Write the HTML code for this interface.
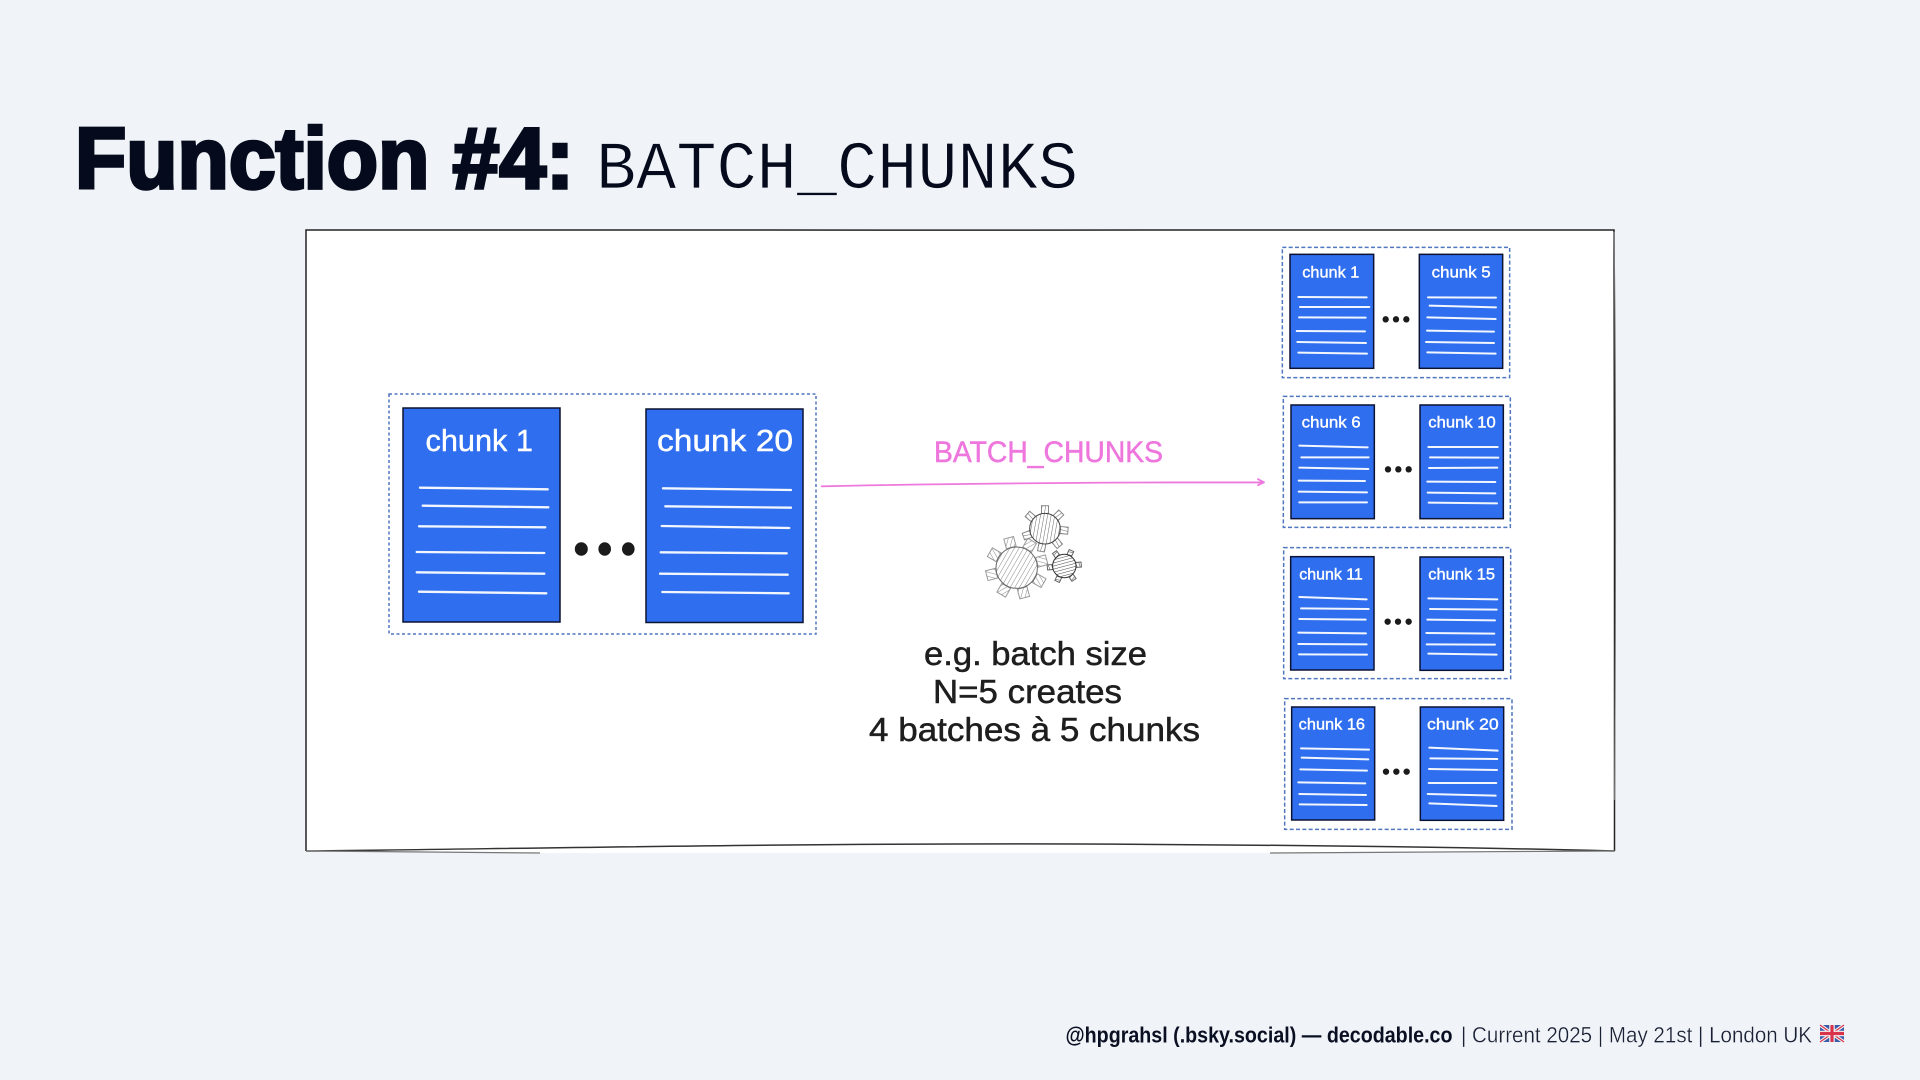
<!DOCTYPE html>
<html><head><meta charset="utf-8"><style>
html,body{margin:0;padding:0;background:#f0f4f9;width:1920px;height:1080px;overflow:hidden}
svg{display:block}
.h{font-family:"Liberation Sans",sans-serif}
.c{fill:#fff;stroke:#fff;stroke-width:.4;font-family:"Liberation Sans",sans-serif}
.n{fill:#1e1e1e;stroke:#1e1e1e;stroke-width:.5;font-family:"Liberation Sans",sans-serif;font-size:33px}
</style></head><body>
<svg width="1920" height="1080" viewBox="0 0 1920 1080" xmlns="http://www.w3.org/2000/svg">
<defs>
<pattern id="h1" width="4" height="4" patternUnits="userSpaceOnUse" patternTransform="rotate(30)"><rect width="4" height="4" fill="#fff"/><line x1="0" y1="0" x2="0" y2="4" stroke="#888" stroke-width="1"/></pattern>
<pattern id="h2" width="3.500" height="3.500" patternUnits="userSpaceOnUse" patternTransform="rotate(10)"><rect width="3.500" height="3.500" fill="#fff"/><line x1="0" y1="0" x2="0" y2="3.500" stroke="#666" stroke-width="1"/></pattern>
<pattern id="h3" width="3" height="3" patternUnits="userSpaceOnUse" patternTransform="rotate(75)"><rect width="3" height="3" fill="#fff"/><line x1="0" y1="0" x2="0" y2="3" stroke="#444" stroke-width="1"/></pattern>
</defs>
<rect width="1920" height="1080" fill="#f0f4f9"/>

<!-- title -->
<text class="h" x="75" y="188" font-size="86" font-weight="700" fill="#050a1c" stroke="#050a1c" stroke-width="3.500" textLength="499" lengthAdjust="spacingAndGlyphs">Function #4:</text>
<text x="596" y="188" font-family="'Liberation Mono',monospace" font-size="68" fill="#050a1c" stroke="#f0f4f9" stroke-width=".8" textLength="482" lengthAdjust="spacingAndGlyphs">BATCH_CHUNKS</text>

<!-- frame -->
<path d="M306 230 H1614 V851 L1500 853 H450 L306 851 Z" fill="#fff"/>
<path d="M306 851 V230 C700 229 1200 231 1614 230 C1616 400 1613 700 1614.500 851" fill="none" stroke="#222" stroke-width="1.500"/>
<path d="M1614 232 C1616 350 1616 600 1614.500 800" fill="none" stroke="#777" stroke-width="1"/>
<path d="M306 851 C500 849 800 843 1080 844 C1300 845 1500 848 1614.500 851" fill="none" stroke="#333" stroke-width="1.500"/>
<path d="M306 851 C400 852 480 853 540 853 M1270 853 C1400 853 1520 852 1614.500 851" fill="none" stroke="#777" stroke-width="1.300"/>

<!-- left group -->
<rect x="389" y="394" width="427" height="240" fill="none" stroke="#4f76bf" stroke-width="1.500" stroke-dasharray="3 2.500"/>
<rect x="403" y="408" width="157" height="214" fill="#2f6eee" stroke="#0b1233" stroke-width="1.500"/>
<rect x="646" y="409" width="157" height="213.500" fill="#2f6eee" stroke="#0b1233" stroke-width="1.500"/>
<text class="c" x="425.500" y="451" font-size="31" textLength="107.500" lengthAdjust="spacingAndGlyphs">chunk 1</text>
<text class="c" x="657" y="451" font-size="31" textLength="136" lengthAdjust="spacingAndGlyphs">chunk 20</text>
<path d="M420 487.700L547.700 489.300M422.700 505.700L548.300 507.300M419 526.300L545.300 527.300M416.700 552L544.300 553M416.700 572.300L544.300 573.700M419 591.700L546.300 593.300M663 488.300L791 490M665.300 506.300L791 507.700M661.700 526L789.300 528M660.700 552.300L786.700 553.300M660 573.700L787.700 574.700M662.300 592L788.700 593.300" stroke="#f2f6ff" stroke-width="2.300" fill="none" stroke-linecap="round"/>
<g fill="#1b1b1b"><ellipse cx="581.300" cy="549" rx="6.500" ry="6.800"/><ellipse cx="604.700" cy="549" rx="6.300" ry="6.800"/><ellipse cx="628.300" cy="549" rx="6.300" ry="6.800"/></g>

<!-- arrow -->
<path d="M821.700 486.300C950 483.500 1100 482.300 1264 482.300M1258 479.200L1264 482.300L1258 485.200" fill="none" stroke="#ee79dc" stroke-width="1.800" stroke-linecap="round" stroke-linejoin="round"/>
<text class="h" x="934" y="462" font-size="30" fill="#ee77dd" stroke="#ee77dd" stroke-width=".5" textLength="229" lengthAdjust="spacingAndGlyphs">BATCH_CHUNKS</text>

<!-- gears -->
<g stroke="#999" stroke-width="1" fill="url(#h1)">
<g transform="translate(1016.700 567.700)">
<rect x="-5" y="-31" width="10" height="10" transform="rotate(-15)"/><rect x="-5" y="-31" width="10" height="10" transform="rotate(30)"/><rect x="-5" y="-31" width="10" height="10" transform="rotate(75)"/><rect x="-5" y="-31" width="10" height="10" transform="rotate(120)"/><rect x="-5" y="-31" width="10" height="10" transform="rotate(165)"/><rect x="-5" y="-31" width="10" height="10" transform="rotate(210)"/><rect x="-5" y="-31" width="10" height="10" transform="rotate(255)"/><rect x="-5" y="-31" width="10" height="10" transform="rotate(300)"/>
<circle r="20.700" stroke="#666"/></g>
</g>
<g stroke="#888" stroke-width="1" fill="url(#h2)">
<g transform="translate(1045 528.700)">
<rect x="-3.500" y="-23" width="7" height="8" transform="rotate(0)"/><rect x="-3.500" y="-23" width="7" height="8" transform="rotate(45)"/><rect x="-3.500" y="-23" width="7" height="8" transform="rotate(95)"/><rect x="-3.500" y="-23" width="7" height="8" transform="rotate(140)"/><rect x="-3.500" y="-23" width="7" height="8" transform="rotate(190)"/><rect x="-3.500" y="-23" width="7" height="8" transform="rotate(250)"/><rect x="-3.500" y="-23" width="7" height="8" transform="rotate(310)"/>
<circle r="15.300" stroke="#444"/></g>
</g>
<g stroke="#666" stroke-width="1" fill="url(#h3)">
<g transform="translate(1064.300 566)">
<rect x="-2.500" y="-17" width="5" height="5.500" transform="rotate(-35)"/><rect x="-2.500" y="-17" width="5" height="5.500" transform="rotate(25)"/><rect x="-2.500" y="-17" width="5" height="5.500" transform="rotate(85)"/><rect x="-2.500" y="-17" width="5" height="5.500" transform="rotate(145)"/><rect x="-2.500" y="-17" width="5" height="5.500" transform="rotate(205)"/><rect x="-2.500" y="-17" width="5" height="5.500" transform="rotate(265)"/>
<circle r="11.700" stroke="#333"/></g>
</g>

<!-- note -->
<text class="n" x="924" y="665" textLength="223" lengthAdjust="spacingAndGlyphs">e.g. batch size</text>
<text class="n" x="933" y="703" textLength="189" lengthAdjust="spacingAndGlyphs">N=5 creates</text>
<text class="n" x="869" y="741" textLength="331" lengthAdjust="spacingAndGlyphs">4 batches à 5 chunks</text>

<!-- right groups: local coordinates scaled 1/3 -->
<g transform="translate(1270 235) scale(.33333)">
<g fill="none" stroke="#4f76bf" stroke-width="4.500" stroke-dasharray="12 7">
<rect x="37" y="37" width="682" height="391"/><rect x="40" y="484" width="681" height="393"/>
</g>
<g fill="#2f6eee" stroke="#0b1233" stroke-width="4.500">
<rect x="60" y="58" width="251" height="342"/><rect x="448" y="58" width="250" height="342"/>
<rect x="63" y="510" width="250" height="341"/><rect x="450" y="510" width="250" height="341"/>
</g>
<path d="M85 186L290 187M90 216L298 216M87 247L287 248M80 288L285 289M82 321L288 324M85 353L291 356M474 187L678 188M479 212L678 217M472 247L677 252M471 287L672 290M468 321L672 324M472 352L677 356M88 632L293 637M94 667L296 667M88 698L295 702M86 737L285 738M86 770L291 772M88 802L291 802M475 636L683 636M480 667L685 668M477 699L682 698M472 740L676 741M473 773L676 775M476 803L681 805" stroke="#f2f6ff" stroke-width="6" stroke-linecap="round" fill="none"/>
<g fill="#1b1b1b"><circle cx="347" cy="253" r="9.500"/><circle cx="378" cy="253" r="9.500"/><circle cx="409" cy="253" r="9.500"/><circle cx="354" cy="703" r="9.500"/><circle cx="385" cy="703" r="9.500"/><circle cx="416" cy="703" r="9.500"/></g>
</g>
<g transform="translate(1270 535) scale(.33333)">
<g fill="none" stroke="#4f76bf" stroke-width="4.500" stroke-dasharray="12 7">
<rect x="41" y="38" width="681" height="393"/><rect x="44" y="491" width="682" height="392"/>
</g>
<g fill="#2f6eee" stroke="#0b1233" stroke-width="4.500">
<rect x="62" y="65" width="250" height="340"/><rect x="450" y="66" width="250" height="340"/>
<rect x="65" y="516" width="249" height="339"/><rect x="451" y="516" width="250" height="340"/>
</g>
<path d="M88 186L290 193M93 220L296 222M88 252L287 254M85 293L288 295M85 327L290 328M87 358L291 359M475 190L682 193M480 222L680 224M472 254L675 256M469 294L673 296M470 328L675 329M475 356L680 359M93 640L297 644M95 668L295 673M91 703L291 707M85 742L286 745M88 777L288 780M89 808L290 810M478 638L683 647M481 670L682 672M477 702L681 705M476 744L679 744M473 777L677 782M478 805L680 813" stroke="#f2f6ff" stroke-width="6" stroke-linecap="round" fill="none"/>
<g fill="#1b1b1b"><circle cx="353" cy="260" r="9.500"/><circle cx="384" cy="260" r="9.500"/><circle cx="416" cy="260" r="9.500"/><circle cx="348" cy="710" r="9.500"/><circle cx="379" cy="710" r="9.500"/><circle cx="410" cy="710" r="9.500"/></g>
</g>
<g font-size="16">
<text class="c" x="1302.300" y="277.300" textLength="57" lengthAdjust="spacingAndGlyphs">chunk 1</text>
<text class="c" x="1431.700" y="277.300" textLength="59" lengthAdjust="spacingAndGlyphs">chunk 5</text>
<text class="c" x="1301.700" y="427.700" textLength="59" lengthAdjust="spacingAndGlyphs">chunk 6</text>
<text class="c" x="1428.300" y="427.700" textLength="67.500" lengthAdjust="spacingAndGlyphs">chunk 10</text>
<text class="c" x="1299.300" y="579.300" textLength="63.500" lengthAdjust="spacingAndGlyphs">chunk 11</text>
<text class="c" x="1428.300" y="579.300" textLength="66.700" lengthAdjust="spacingAndGlyphs">chunk 15</text>
<text class="c" x="1298.700" y="729.300" textLength="66.300" lengthAdjust="spacingAndGlyphs">chunk 16</text>
<text class="c" x="1427" y="729.300" textLength="71.700" lengthAdjust="spacingAndGlyphs">chunk 20</text>
</g>

<!-- footer -->
<text class="h" x="1065.500" y="1042.500" font-size="22" font-weight="700" fill="#0a0f22" textLength="387" lengthAdjust="spacingAndGlyphs">@hpgrahsl (.bsky.social) — decodable.co</text>
<text class="h" x="1461" y="1042.500" font-size="22" fill="#1a2033" stroke="#f0f4f9" stroke-width=".3" textLength="351" lengthAdjust="spacingAndGlyphs">| Current 2025 | May 21st | London UK</text>
<g transform="translate(1820 1025)">
<rect width="24" height="17" rx="2" fill="#3a5aa8"/>
<path d="M0 0L24 17M24 0L0 17" stroke="#f4f4f4" stroke-width="3.500"/>
<path d="M0 0L24 17M24 0L0 17" stroke="#d8324c" stroke-width="1.200"/>
<path d="M12 0V17M0 8.500H24" stroke="#f4f4f4" stroke-width="5.500"/>
<path d="M12 0V17M0 8.500H24" stroke="#d8324c" stroke-width="3.200"/>
</g>
</svg>
</body></html>
